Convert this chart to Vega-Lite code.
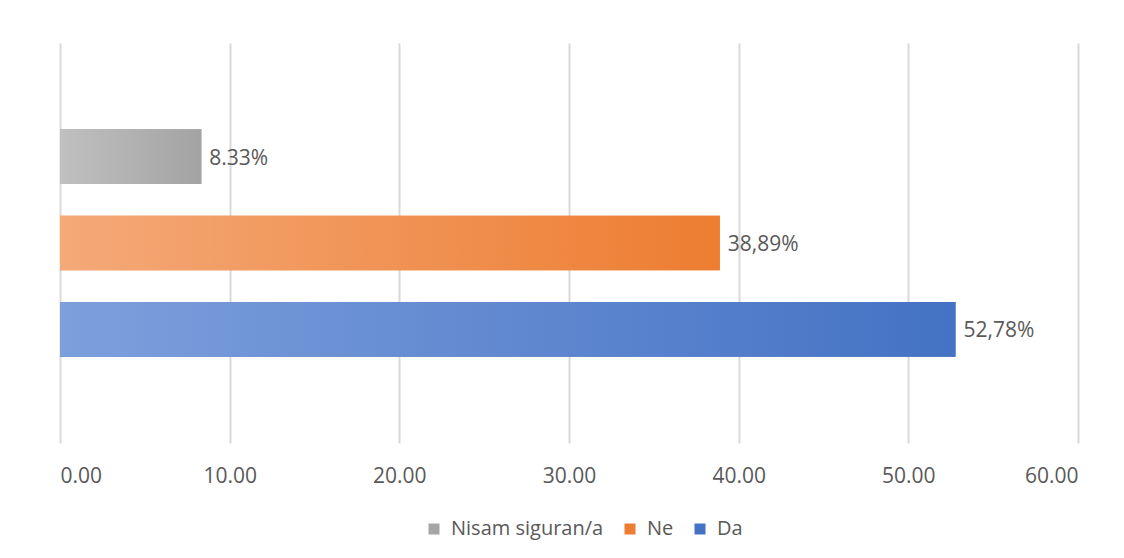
{
  "$schema": "https://vega.github.io/schema/vega-lite/v6.json",
  "autosize": {"type": "none"},
  "width": 1018,
  "height": 400,
  "padding": {"left": 60, "top": 43, "right": 46, "bottom": 115},
  "background": "white",
  "config": {"view": {"stroke": null}, "font": "Open Sans"},
  "data": {
    "values": [
      {"kategorija": "Nisam siguran/a", "vrijednost": 8.33, "oznaka": "8.33%"},
      {"kategorija": "Ne", "vrijednost": 38.89, "oznaka": "38,89%"},
      {"kategorija": "Da", "vrijednost": 52.78, "oznaka": "52,78%"}
    ]
  },
  "encoding": {
    "y": {
      "field": "kategorija",
      "type": "nominal",
      "sort": ["Nisam siguran/a", "Ne", "Da"],
      "scale": {"paddingInner": 0.368, "paddingOuter": 1.023},
      "axis": null
    },
    "x": {
      "field": "vrijednost",
      "type": "quantitative",
      "scale": {"domain": [0, 60], "nice": false},
      "axis": {
        "title": null,
        "values": [0, 10, 20, 30, 40, 50, 60],
        "format": ".2f",
        "domain": false,
        "ticks": false,
        "grid": true,
        "gridColor": "#d9d9d9",
        "gridWidth": 2,
        "labelFont": "Open Sans",
        "labelFontSize": 21,
        "labelColor": "#595959",
        "labelPadding": 22
      }
    }
  },
  "layer": [
    {
      "mark": {"type": "bar"},
      "encoding": {
        "color": {
          "field": "kategorija",
          "type": "nominal",
          "sort": ["Nisam siguran/a", "Ne", "Da"],
          "scale": {"domain": ["Nisam siguran/a", "Ne", "Da"], "range": ["#a5a5a5", "#ed7d31", "#4472c4"]},
          "legend": {
            "title": null,
            "orient": "none",
            "legendX": 364,
            "legendY": 476,
            "direction": "horizontal",
            "symbolType": "square",
            "symbolSize": 121,
            "symbolStrokeWidth": 0,
            "labelFont": "Open Sans",
            "labelFontSize": 20,
            "labelColor": "#595959",
            "labelOffset": 7,
            "columnPadding": 16
          }
        }
      }
    },
    {
      "transform": [{"filter": "datum.kategorija === 'Nisam siguran/a'"}],
      "mark": {"type": "bar", "fill": {"gradient": "linear", "x1": 0, "y1": 0, "x2": 1, "y2": 0, "stops": [{"offset": 0, "color": "#c0c0c0"}, {"offset": 1, "color": "#a3a3a3"}]}}
    },
    {
      "transform": [{"filter": "datum.kategorija === 'Ne'"}],
      "mark": {"type": "bar", "fill": {"gradient": "linear", "x1": 0, "y1": 0, "x2": 1, "y2": 0, "stops": [{"offset": 0, "color": "#f4a978"}, {"offset": 1, "color": "#ed7d31"}]}}
    },
    {
      "transform": [{"filter": "datum.kategorija === 'Da'"}],
      "mark": {"type": "bar", "fill": {"gradient": "linear", "x1": 0, "y1": 0, "x2": 1, "y2": 0, "stops": [{"offset": 0, "color": "#7d9fdc"}, {"offset": 1, "color": "#4472c4"}]}}
    },
    {
      "mark": {"type": "text", "align": "left", "baseline": "middle", "dx": 8, "dy": 2, "font": "Open Sans", "fontSize": 21, "color": "#595959"},
      "encoding": {"text": {"field": "oznaka"}}
    }
  ]
}
